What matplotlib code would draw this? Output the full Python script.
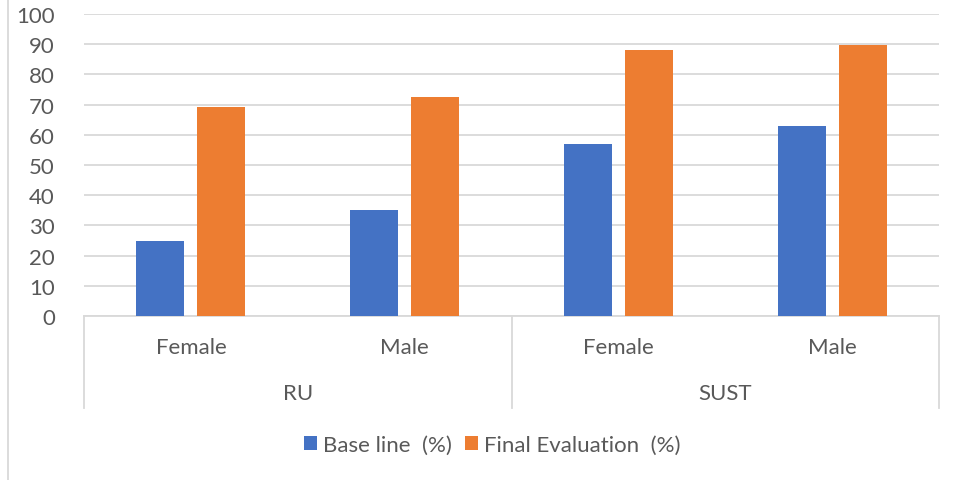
import numpy as np
import matplotlib.pyplot as plt
from matplotlib.lines import Line2D
import matplotlib.transforms as mtransforms

plt.rcParams['font.family'] = ['Lato', 'DejaVu Sans']

# Dados
universidades = ["RU", "SUST"]
generos = ["Female", "Male", "Female", "Male"]
base_line = [25, 35, 57, 63]
final_eval = [69.3, 72.4, 88.2, 89.7]
yticks = list(range(0, 101, 10))

azul = "#4472C4"
laranja = "#ED7D31"
cinza_txt = "#595959"
cinza_linha = "#D9D9D9"
fs = 16

fig = plt.figure(figsize=(9.56, 4.81), dpi=100)
ax = fig.add_axes([84 / 956, 1 - 317 / 481, 855 / 956, 302 / 481])

x = np.arange(len(generos))
w = 0.225
off = 0.143
ax.bar(x - off, base_line, w, color=azul, label="Base line  (%)", zorder=3)
ax.bar(x + off, final_eval, w, color=laranja, label="Final Evaluation  (%)", zorder=3)

ax.set_xlim(-0.5, len(generos) - 0.5)
ax.set_ylim(0, 100)
ax.set_yticks(yticks)
ax.tick_params(axis='y', length=0, labelsize=fs, labelcolor=cinza_txt, pad=21)
ax.set_xticks([])
ax.grid(axis='y', color=cinza_linha, lw=1.3, zorder=0)
for s in ['top', 'right', 'left']:
    ax.spines[s].set_visible(False)
ax.spines['bottom'].set_color(cinza_linha)
ax.spines['bottom'].set_linewidth(1.3)

# Eixo de categorias em dois níveis
trans = mtransforms.blended_transform_factory(ax.transData, ax.transAxes)
for xb in [-0.5, 1.5, 3.5]:
    ax.add_line(Line2D([xb, xb], [0, -0.305], transform=trans, color=cinza_linha,
                       lw=1.3, clip_on=False))
for xi, g in zip(x, generos):
    ax.text(xi, -0.103, g, transform=trans, ha='center', va='center',
            fontsize=fs, color=cinza_txt)
for i, u in enumerate(universidades):
    ax.text(2 * i + 0.5, -0.255, u, transform=trans, ha='center', va='center',
            fontsize=fs, color=cinza_txt)

# Borda esquerda do gráfico
fig.add_artist(Line2D([7.5 / 956, 7.5 / 956], [0, 1], transform=fig.transFigure,
                      color=cinza_linha, lw=1.3))

fig.legend(loc='center', bbox_to_anchor=(492 / 956, 1 - 446 / 481), ncol=2,
           frameon=False, fontsize=fs, labelcolor=cinza_txt, handlelength=0.6,
           handleheight=0.6, handletextpad=0.25, columnspacing=0.6)

fig.savefig("out.png", dpi=100)
